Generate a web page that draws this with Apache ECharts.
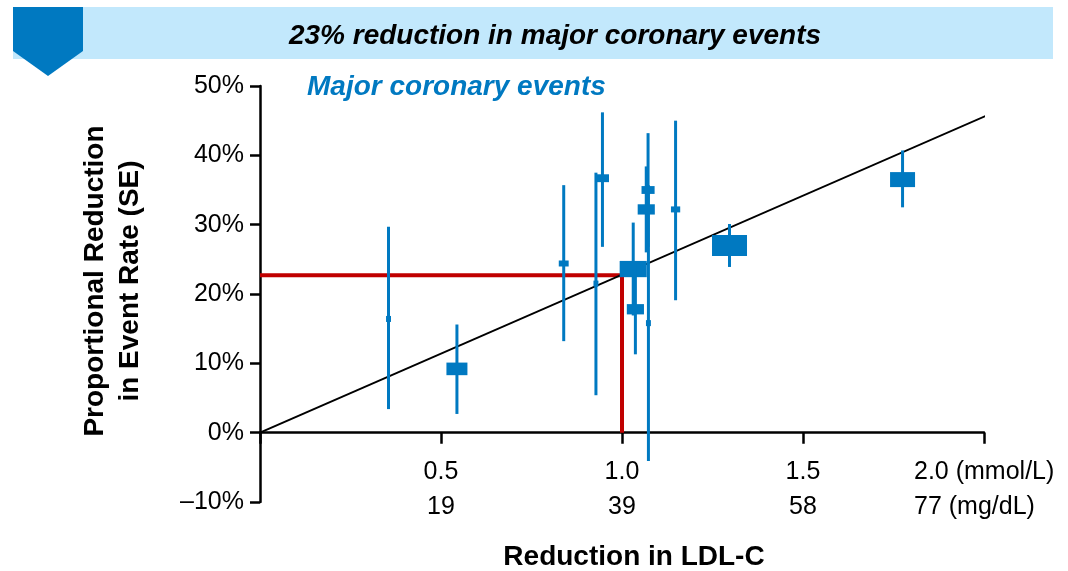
<!DOCTYPE html>
<html>
<head>
<meta charset="utf-8">
<script src="https://cdn.jsdelivr.net/npm/echarts@6/dist/echarts.min.js"></script>
<style>
  html, body { margin: 0; padding: 0; background: #fff; }
  #chart { width: 1068px; height: 571px; }
</style>
</head>
<body>
<div id="chart"></div>
<script>
// Trial results: LDL-C reduction (mmol/L) vs proportional reduction in major coronary events (%)
const trialX      = [0.355, 0.544, 0.839, 0.928, 0.946, 1.031, 1.037, 1.072, 1.067, 1.073, 1.148, 1.297, 1.775];
const trialEffect = [16.4,  9.2,   24.4,  21.5,  36.7,  23.6,  17.8,  35.0,  32.2,  15.8,  32.2,  27.0,  36.5];
const trialLow    = [3.4,   2.7,   13.2,  5.4,   26.8,  16.9,  11.3,  26.8,  26.0,  -4.1,  19.1,  23.9,  32.5];
const trialHigh   = [29.7,  15.6,  35.7,  37.5,  46.2,  30.3,  24.3,  43.2,  38.4,  35.7,  45.0,  30.1,  40.7];
// relative statistical weight of each trial
const trialWeight = [2,     36,    8,     2,     14,    60,    24,    14,    24,    2,     7,     100,   51];

// Fitted line through the origin and the 1 mmol/L reference effect
const fitLine = [[0, 0], [2.01, 45.8]];
const refLDL = 1.0;
const refEffect = 22.7;

// Axis tick labels
const mmolTicks = [0.5, 1.0, 1.5, 2.0];
const mmolLabels = ['0.5', '1.0', '1.5', '2.0 (mmol/L)'];
const mgdlLabels = ['19', '39', '58', '77 (mg/dL)'];

const BLUE = '#0079C1';
const RED = '#C00000';
const FONT = '"Liberation Sans", Arial, Helvetica, sans-serif';

const chart = echarts.init(document.getElementById('chart'), null, { renderer: 'canvas' });

const trialData = trialX.map((x, i) => [x, trialEffect[i], trialLow[i], trialHigh[i], trialWeight[i]]);

const option = {
  animation: false,
  backgroundColor: '#ffffff',
  textStyle: { fontFamily: FONT },
  grid: { left: 260, right: 84, top: 86, bottom: 69, containLabel: false, outerBoundsMode: 'none' },
  xAxis: {
    type: 'value',
    min: 0, max: 2, interval: 0.5,
    axisLine: { show: true, onZero: true, lineStyle: { color: '#000', width: 2.5 } },
    axisTick: { show: true, length: 11, lineStyle: { color: '#000', width: 2.5 } },
    splitLine: { show: false },
    axisLabel: {
      // labels sit just below the zero line, which lies above the grid bottom
      margin: -47,
      color: '#000',
      fontFamily: FONT,
      fontSize: 25,
      lineHeight: 35,
      formatter: function (v) {
        const i = mmolTicks.findIndex(t => Math.abs(t - v) < 1e-6);
        if (i < 0) return '';
        if (i === mmolTicks.length - 1) {
          return '{u|' + mmolLabels[i] + '}\n{u|' + mgdlLabels[i] + '}';
        }
        return '{c|' + mmolLabels[i] + '}\n{c|' + mgdlLabels[i] + '}';
      },
      rich: {
        c: { fontSize: 25, lineHeight: 35, color: '#000', fontFamily: FONT, align: 'center' },
        u: { fontSize: 25, lineHeight: 35, color: '#000', fontFamily: FONT, width: 140, align: 'left' }
      }
    }
  },
  yAxis: {
    type: 'value',
    min: -10, max: 50, interval: 10,
    axisLine: { show: true, onZero: true, lineStyle: { color: '#000', width: 2.5 } },
    axisTick: { show: true, length: 10, lineStyle: { color: '#000', width: 2.5 } },
    splitLine: { show: false },
    axisLabel: {
      margin: 16,
      color: '#000',
      fontFamily: FONT,
      fontSize: 25,
      formatter: function (v) {
        return (v < 0 ? '\u2013' : '') + Math.abs(v) + '%';
      }
    }
  },
  graphic: [
    { type: 'rect', z: 0, shape: { x: 13, y: 7, width: 1040, height: 52 }, style: { fill: '#C2E8FC' } },
    { type: 'polygon', z: 1, shape: { points: [[13, 7], [83, 7], [83, 51], [48, 76], [13, 51]] }, style: { fill: BLUE } },
    {
      type: 'text', z: 2, x: 555, y: 36,
      style: { text: '23% reduction in major coronary events', font: 'italic bold 28px ' + FONT, fill: '#000', textAlign: 'center', textVerticalAlign: 'middle' }
    },
    {
      type: 'text', z: 2, x: 307, y: 87,
      style: { text: 'Major coronary events', font: 'italic bold 28px ' + FONT, fill: BLUE, textAlign: 'left', textVerticalAlign: 'middle' }
    },
    {
      type: 'text', z: 2, x: 113, y: 281, rotation: Math.PI / 2,
      style: { text: 'Proportional Reduction\nin Event Rate (SE)', font: 'bold 28px ' + FONT, lineHeight: 35, fill: '#000', textAlign: 'center', textVerticalAlign: 'middle' }
    },
    {
      type: 'text', z: 2, x: 634, y: 557,
      style: { text: 'Reduction in LDL-C', font: 'bold 28px ' + FONT, fill: '#000', textAlign: 'center', textVerticalAlign: 'middle' }
    }
  ],
  series: [
    {
      name: 'Reference effect',
      type: 'line',
      data: [[0, refEffect], [refLDL, refEffect], [refLDL, 0]],
      symbol: 'none',
      clip: false,
      lineStyle: { color: RED, width: 4 },
      z: 2
    },
    {
      name: 'Fitted line',
      type: 'line',
      data: fitLine,
      symbol: 'none',
      clip: false,
      lineStyle: { color: '#000', width: 2 },
      z: 3
    },
    {
      name: 'Trials',
      type: 'custom',
      z: 4,
      clip: false,
      encode: { x: 0, y: 1 },
      data: trialData,
      renderItem: function (params, api) {
        const x = api.value(0);
        const c = api.coord([x, api.value(1)]);
        const lo = api.coord([x, api.value(2)]);
        const hi = api.coord([x, api.value(3)]);
        const w = 3.5 * Math.sqrt(api.value(4));
        const h = Math.max(6, 0.6 * w);
        return {
          type: 'group',
          children: [
            { type: 'line', shape: { x1: hi[0], y1: hi[1], x2: lo[0], y2: lo[1] }, style: { stroke: BLUE, lineWidth: 3 } },
            { type: 'rect', shape: { x: c[0] - w / 2, y: c[1] - h / 2, width: w, height: h }, style: { fill: BLUE } }
          ]
        };
      }
    }
  ]
};

chart.setOption(option);
</script>
</body>
</html>
